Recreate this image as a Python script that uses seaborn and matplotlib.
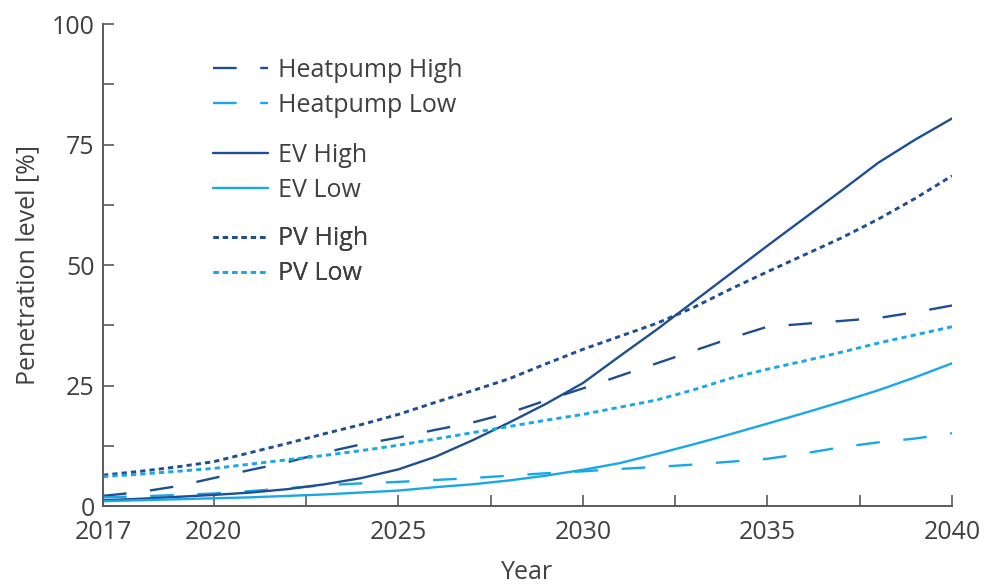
import numpy as np
import pandas as pd
import matplotlib
matplotlib.use("Agg")
import matplotlib.pyplot as plt
from matplotlib.lines import Line2D
from matplotlib.ticker import FixedLocator
import seaborn as sns

# values (penetration level in %)
years = list(range(2017, 2041))
heatpump_high = [2.1, 2.9, 4.1, 5.8, 7.5, 9.1, 11.1, 12.8, 14.2, 15.8, 17.3, 19.3,
                 21.9, 24.4, 27.0, 29.6, 32.2, 34.8, 37.2, 37.8, 38.4, 39.0, 40.2, 41.6]
heatpump_low = [1.8, 2.0, 2.3, 2.6, 3.1, 3.7, 4.3, 4.7, 5.0, 5.4, 5.8, 6.3,
                6.8, 7.2, 7.7, 8.1, 8.6, 9.2, 9.8, 10.9, 12.2, 13.2, 14.0, 15.1]
ev_high = [1.2, 1.5, 1.9, 2.3, 2.8, 3.5, 4.5, 5.8, 7.6, 10.2, 13.6, 17.3,
           21.2, 25.5, 31.1, 36.6, 42.4, 48.2, 54.0, 59.7, 65.4, 71.2, 76.0, 80.4]
ev_low = [1.0, 1.2, 1.4, 1.6, 1.8, 2.1, 2.4, 2.8, 3.2, 3.9, 4.5, 5.3,
          6.3, 7.5, 8.9, 10.8, 12.8, 14.9, 17.1, 19.3, 21.6, 24.0, 26.7, 29.6]
pv_high = [6.4, 7.2, 8.1, 9.2, 11.1, 13.0, 15.0, 16.9, 19.0, 21.5, 23.9, 26.4,
           29.5, 32.5, 35.2, 37.9, 41.2, 45.0, 48.6, 52.1, 55.6, 59.5, 63.8, 68.5]
pv_low = [6.1, 6.6, 7.2, 7.8, 8.7, 9.6, 10.5, 11.5, 12.6, 13.9, 15.2, 16.5,
          17.8, 19.0, 20.5, 22.0, 24.1, 26.5, 28.4, 30.1, 31.9, 33.8, 35.5, 37.2]

series_names = ["Heatpump High", "Heatpump Low", "EV High", "EV Low", "PV High", "PV Low"]
series_values = [heatpump_high, heatpump_low, ev_high, ev_low, pv_high, pv_low]

dark = "#1f4e91"
light = "#19a8e6"
palette = {"Heatpump High": dark, "Heatpump Low": light,
           "EV High": dark, "EV Low": light,
           "PV High": dark, "PV Low": light}
dashes = {"Heatpump High": (10, 10), "Heatpump Low": (10, 10),
          "EV High": "", "EV Low": "",
          "PV High": (1.8, 1.4), "PV Low": (1.8, 1.4)}
widths = {"Heatpump High": 1.7, "Heatpump Low": 1.7, "EV High": 1.7,
          "EV Low": 1.7, "PV High": 2.1, "PV Low": 2.1}

df = pd.DataFrame({
    "Year": np.tile(years, len(series_names)),
    "value": np.concatenate(series_values),
    "series": np.repeat(series_names, len(years)),
})

sns.set_style("ticks")
plt.rcParams["font.family"] = ["Open Sans", "DejaVu Sans"]

text_col = "#404040"
axis_col = "#5a5a5a"
fs = 18

fig = plt.figure(figsize=(9.87, 5.86), dpi=100)
ax = fig.add_axes([0.1044, 0.1365, 0.8601, 0.8225])

sns.lineplot(data=df, x="Year", y="value", hue="series", style="series",
             hue_order=series_names, style_order=series_names,
             palette=palette, dashes=dashes, linewidth=1.7, legend=False, ax=ax)
# dotted PV lines are a bit heavier in the reference
for line, name in zip(ax.get_lines(), series_names):
    line.set_linewidth(widths[name])
    if dashes[name] != "":
        line.set_dashes(dashes[name])

ax.set_xlim(2017, 2040)
ax.set_ylim(0, 100)
ax.set_xticks([2017, 2020, 2025, 2030, 2035, 2040])
ax.xaxis.set_minor_locator(FixedLocator([2022.5, 2027.5, 2032.5, 2037.5]))
ax.set_yticks([0, 25, 50, 75, 100])
ax.yaxis.set_minor_locator(FixedLocator([12.5, 37.5, 62.5, 87.5]))
ax.tick_params(which="both", direction="in", length=8, width=1.2, color=axis_col)
ax.tick_params(which="major", labelsize=fs, labelcolor=text_col)
ax.tick_params(axis="x", which="major", pad=10)
ax.tick_params(axis="y", which="major", pad=6)

for side in ["top", "right"]:
    ax.spines[side].set_visible(False)
for side in ["left", "bottom"]:
    ax.spines[side].set_color(axis_col)
    ax.spines[side].set_linewidth(1.4)

ax.set_xlabel("Year", fontsize=fs, color=text_col, labelpad=11)
ax.set_ylabel("Penetration level [%]", fontsize=fs, color=text_col, labelpad=8)

# legend in three groups, like the reference
groups = [(0, 1), (2, 3), (4, 5)]
anchors = [0.955, 0.78, 0.606]
for (i, j), yy in zip(groups, anchors):
    handles = []
    for k in (i, j):
        name = series_names[k]
        h = Line2D([], [], color=palette[name], linewidth=widths[name])
        if dashes[name] != "":
            h.set_dashes(dashes[name])
        handles.append(h)
    leg = ax.legend(handles, [series_names[i], series_names[j]],
                    loc="upper left", bbox_to_anchor=(0.115, yy),
                    frameon=False, fontsize=fs, handlelength=2.2,
                    handletextpad=0.4, labelspacing=0.4, borderpad=0,
                    labelcolor=text_col)
    ax.add_artist(leg)

fig.savefig("out.png", dpi=100)
